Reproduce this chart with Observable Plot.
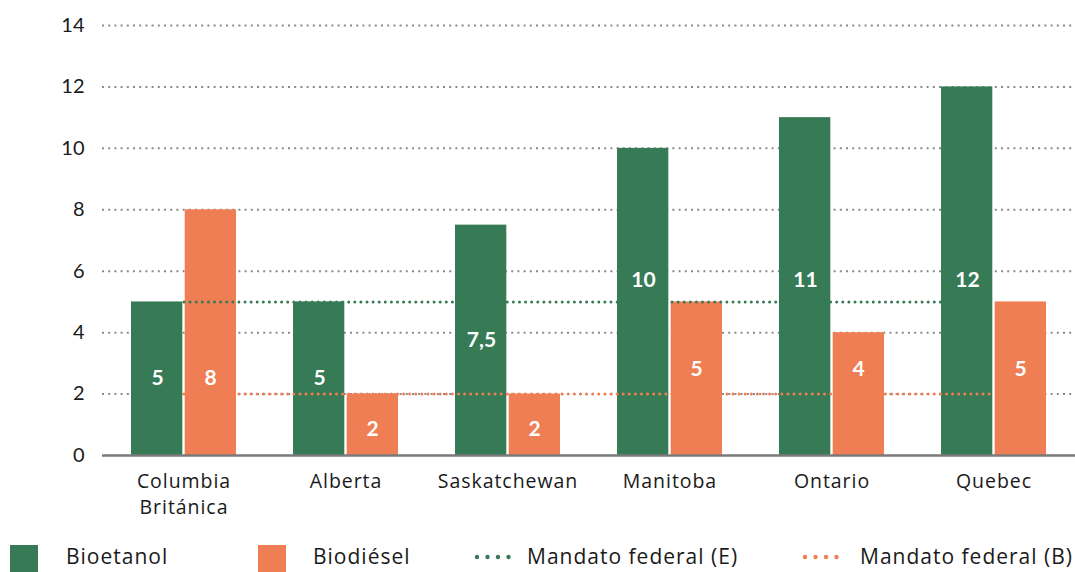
<!DOCTYPE html>
<html>
<head>
<meta charset="utf-8">
<script src="https://cdn.jsdelivr.net/npm/d3@7"></script>
<script src="https://cdn.jsdelivr.net/npm/@observablehq/plot@0.6"></script>
<style>
  html, body { margin: 0; padding: 0; background: #fff; }
  body { font-family: "Open Sans", Lato, sans-serif; color: #1a1a1a; width: 1075px; overflow: hidden; }
  #legend { position: relative; height: 37px; font-size: 21px; letter-spacing: 1px; }
  #legend .sw { position: absolute; top: 10px; width: 28px; height: 27px; }
  #legend .lbl { position: absolute; top: 8px; line-height: 26px; white-space: nowrap; }
</style>
</head>
<body>
<div id="chart"></div>
<div id="legend"></div>
<script>
// ---- data ----
const provinces = ["Columbia\nBritánica", "Alberta", "Saskatchewan", "Manitoba", "Ontario", "Quebec"];
const bioetanol = [5, 5, 7.5, 10, 11, 12];
const biodiesel = [8, 2, 2, 5, 4, 5];
const mandatoE = 5;
const mandatoB = 2;
// where the value labels sit inside each bar (data units)
const labelPosE = [2.5, 2.5, 3.75, 5.72, 5.72, 5.72];
const labelPosB = [2.5, 0.87, 0.87, 2.8, 2.8, 2.8];
const yTicks = [0, 2, 4, 6, 8, 10, 12, 14];
const seriesNames = ["Bioetanol", "Biodiésel", "Mandato federal (E)", "Mandato federal (B)"];

const GREEN = "#377a56";
const ORANGE = "#f07e54";

const fmt = v => String(v).replace(".", ",");

const rowsE = provinces.map((p, i) => ({p, v: bioetanol[i], ly: labelPosE[i], t: fmt(bioetanol[i])}));
const rowsB = provinces.map((p, i) => ({p, v: biodiesel[i], ly: labelPosB[i], t: fmt(biodiesel[i])}));
const lineE = provinces.map(p => ({p, v: mandatoE}));
const lineB = provinces.map(p => ({p, v: mandatoB}));

const half = 53.7;   // half of band + 1px gap
const off = 26.5;    // label offset from band centre

const chart = Plot.plot({
  width: 1075,
  height: 535,
  marginLeft: 102,
  marginRight: 0,
  marginTop: 25,
  marginBottom: 80,
  style: {fontFamily: "'Open Sans', Lato, sans-serif", color: "#1a1a1a", background: "#fff"},
  x: {domain: provinces, paddingInner: 0.35, paddingOuter: 0.175, label: null},
  y: {domain: [0, 14], label: null},
  marks: [
    Plot.ruleY(yTicks.filter(d => d > 0), {stroke: "#8a8a8a", strokeWidth: 2, strokeDasharray: "2,4.2"}),
    Plot.barY(rowsE, {x: "p", y: "v", fill: GREEN, insetRight: half}),
    Plot.barY(rowsB, {x: "p", y: "v", fill: ORANGE, insetLeft: half}),
    Plot.ruleY([0], {stroke: "#7a7a7a", strokeWidth: 2.5}),
    Plot.lineY(lineE, {x: "p", y: "v", stroke: GREEN, strokeWidth: 3, strokeDasharray: "0,6.1", strokeLinecap: "round"}),
    Plot.lineY(lineB, {x: "p", y: "v", stroke: ORANGE, strokeWidth: 3, strokeDasharray: "0,6.1", strokeLinecap: "round"}),
    Plot.text(rowsE, {x: "p", y: "ly", text: "t", dx: -off, fill: "white", fontSize: 21, fontWeight: "bold", fontFamily: "Lato, sans-serif"}),
    Plot.text(rowsB, {x: "p", y: "ly", text: "t", dx: off, fill: "white", fontSize: 21, fontWeight: "bold", fontFamily: "Lato, sans-serif"}),
    Plot.axisY({ticks: yTicks, tickSize: 0, tickPadding: 18, fontSize: 20, label: null, fontFamily: "Lato, sans-serif"}),
    Plot.axisX({tickSize: 0, tickPadding: 14, fontSize: 19.5, lineHeight: 1.33, label: null})
  ]
});
document.getElementById("chart").appendChild(chart);
chart.querySelectorAll("[aria-label='x-axis tick label']").forEach(g => g.setAttribute("letter-spacing", "0.95"));

// ---- legend ----
const legend = document.getElementById("legend");
const items = [
  {name: seriesNames[0], kind: "sq", color: GREEN, sx: 10, tx: 66},
  {name: seriesNames[1], kind: "sq", color: ORANGE, sx: 258, tx: 313},
  {name: seriesNames[2], kind: "dot", color: GREEN, sx: 474, tx: 527},
  {name: seriesNames[3], kind: "dot", color: ORANGE, sx: 802, tx: 860}
];
for (const it of items) {
  if (it.kind === "sq") {
    const s = document.createElement("div");
    s.className = "sw";
    s.style.left = it.sx + "px";
    s.style.background = it.color;
    legend.appendChild(s);
  } else {
    const ns = "http://www.w3.org/2000/svg";
    const svg = document.createElementNS(ns, "svg");
    svg.setAttribute("width", 40);
    svg.setAttribute("height", 10);
    svg.style.position = "absolute";
    svg.style.left = it.sx + "px";
    svg.style.top = "17px";
    for (let k = 0; k < 4; k++) {
      const c = document.createElementNS(ns, "circle");
      c.setAttribute("cx", 3 + k * 10.5);
      c.setAttribute("cy", 5);
      c.setAttribute("r", 2.2);
      c.setAttribute("fill", it.color);
      svg.appendChild(c);
    }
    legend.appendChild(svg);
  }
  const t = document.createElement("div");
  t.className = "lbl";
  t.style.left = it.tx + "px";
  t.textContent = it.name;
  legend.appendChild(t);
}
</script>
</body>
</html>
